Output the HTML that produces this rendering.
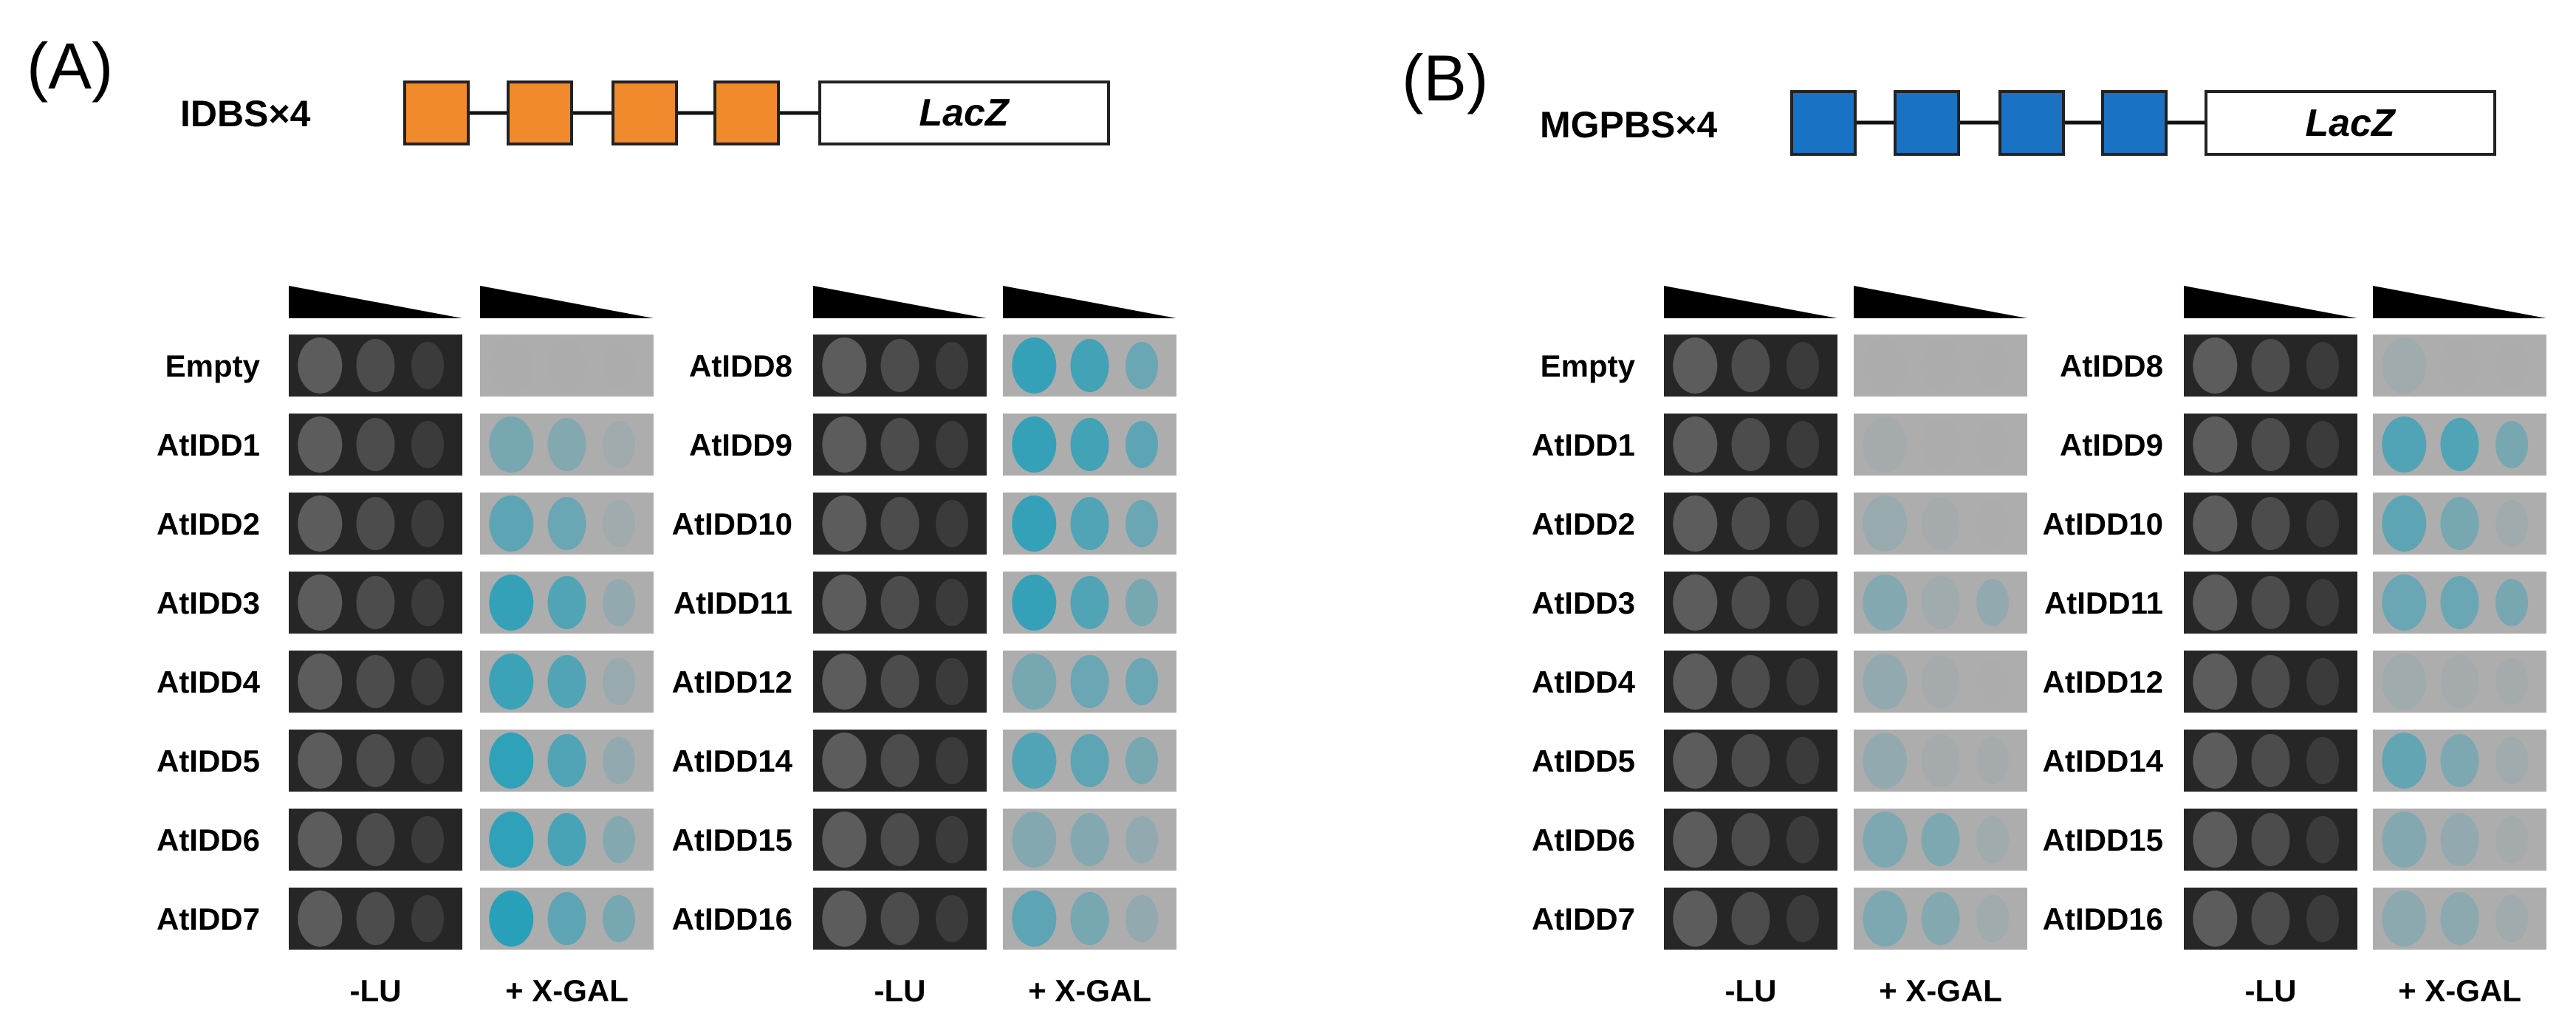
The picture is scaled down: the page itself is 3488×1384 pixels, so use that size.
<!DOCTYPE html>
<html><head><meta charset="utf-8"><style>
html,body{margin:0;padding:0;background:#fff}
svg{display:block}
text{font-family:"Liberation Sans",Arial,sans-serif}
</style></head><body>
<svg id="fig" width="3488" height="1384" viewBox="0 0 3488 1384" xmlns="http://www.w3.org/2000/svg">
 <g>
  <text x="36" y="120" font-size="88">(A)</text>
  <text x="244" y="171" font-size="50" font-weight="bold">IDBS×4</text>
  <line x1="591" y1="153" x2="1110" y2="153" stroke="#111" stroke-width="5"/>
  <rect x="548" y="111" width="86" height="84" fill="#f08a2c" stroke="#222" stroke-width="4"/>
  <rect x="688" y="111" width="86" height="84" fill="#f08a2c" stroke="#222" stroke-width="4"/>
  <rect x="830" y="111" width="86" height="84" fill="#f08a2c" stroke="#222" stroke-width="4"/>
  <rect x="968" y="111" width="86" height="84" fill="#f08a2c" stroke="#222" stroke-width="4"/>
  <rect x="1110" y="111" width="391" height="84" fill="#fff" stroke="#222" stroke-width="4"/>
  <text x="1305" y="170" font-size="52" font-weight="bold" font-style="italic" text-anchor="middle">LacZ</text>
 </g>
 <g>
  <text x="1898" y="136" font-size="88">(B)</text>
  <text x="2085" y="186" font-size="50" font-weight="bold">MGPBS×4</text>
  <line x1="2470" y1="166" x2="2987" y2="166" stroke="#111" stroke-width="5"/>
  <rect x="2426" y="124" width="86" height="85" fill="#1a72c4" stroke="#222" stroke-width="4"/>
  <rect x="2566" y="124" width="86" height="85" fill="#1a72c4" stroke="#222" stroke-width="4"/>
  <rect x="2708" y="124" width="86" height="85" fill="#1a72c4" stroke="#222" stroke-width="4"/>
  <rect x="2847" y="124" width="86" height="85" fill="#1a72c4" stroke="#222" stroke-width="4"/>
  <rect x="2987" y="124" width="391" height="85" fill="#fff" stroke="#222" stroke-width="4"/>
  <text x="3182" y="184" font-size="52" font-weight="bold" font-style="italic" text-anchor="middle">LacZ</text>
 </g>
</svg>
<script>
const labelsLeft = ["Empty","AtIDD1","AtIDD2","AtIDD3","AtIDD4","AtIDD5","AtIDD6","AtIDD7"];
const labelsRight = ["AtIDD8","AtIDD9","AtIDD10","AtIDD11","AtIDD12","AtIDD14","AtIDD15","AtIDD16"];
const blueALeft = [[0,0,0],[0.4,0.3,0.1],[0.6,0.5,0.1],[0.9,0.7,0.2],[0.85,0.7,0.15],[0.95,0.7,0.2],[0.95,0.75,0.3],[1,0.6,0.4]];
const blueARight = [[0.9,0.8,0.5],[0.9,0.8,0.6],[0.9,0.7,0.5],[0.9,0.7,0.4],[0.4,0.5,0.5],[0.7,0.6,0.4],[0.3,0.3,0.2],[0.6,0.4,0.2]];
const blueBLeft = [[0,0,0],[0.05,0,0],[0.15,0.05,0],[0.3,0.1,0.2],[0.2,0.05,0],[0.2,0.05,0.05],[0.35,0.35,0.1],[0.35,0.3,0.1]];
const blueBRight = [[0.1,0,0],[0.7,0.7,0.4],[0.6,0.4,0.1],[0.5,0.5,0.4],[0.1,0.05,0.05],[0.55,0.35,0.1],[0.3,0.2,0.05],[0.25,0.25,0.1]];
const growth = [1,0.7,0.4];

const NS="http://www.w3.org/2000/svg";
const svg=document.getElementById('fig');
const ROW0=453, PITCH=107, ROWH=84, CELLW=235;
function mk(tag,attrs,parent){const e=document.createElementNS(NS,tag);for(const k in attrs)e.setAttribute(k,attrs[k]);(parent||svg).appendChild(e);return e;}
function rowY(i){return ROW0+i*PITCH;}
function mix(v){const g=[172,172,172],b=[40,160,185];return `rgb(${g.map((c,i)=>Math.round(c+(b[i]-c)*v)).join(',')})`;}
function block(grp,labels,blue,labelX,darkX,grayX,key){
  mk('polygon',{points:`${darkX},387 ${darkX},431 ${darkX+CELLW},431`,fill:'#000'},grp);
  mk('polygon',{points:`${grayX},387 ${grayX},431 ${grayX+CELLW},431`,fill:'#000'},grp);
  labels.forEach((lab,i)=>{
    const y=rowY(i);
    const t=mk('text',{x:labelX,y:y+ROWH/2+15,'font-size':42,'font-weight':'bold','text-anchor':'end'},grp);
    t.textContent=lab;
    
    
    const d=mk('rect',{x:darkX,y:y,width:CELLW,height:ROWH,fill:'#262626'},grp);
    
    
    const g=mk('rect',{x:grayX,y:y,width:CELLW,height:ROWH,fill:'#adadad'},grp);
    
    
    [0.18,0.5,0.8].forEach((fx,j)=>{
      const rx=[30,26,22][j], ry=[38,36,32][j];
      const s1=mk('ellipse',{cx:darkX+CELLW*fx,cy:y+ROWH/2,rx:rx,ry:ry,fill:'#5c5c5c','fill-opacity':growth[j]},grp);
      
      
      const v=blue[i][j];
      const s2=mk('ellipse',{cx:grayX+CELLW*fx,cy:y+ROWH/2,rx:rx,ry:ry,fill:mix(v)},grp);
      
      
    });
  });
  const l1=mk('text',{x:darkX+CELLW/2,y:1356,'font-size':42,'font-weight':'bold','text-anchor':'middle'},grp);
  l1.textContent='-LU';
  
  
  const l2=mk('text',{x:grayX+CELLW/2,y:1356,'font-size':42,'font-weight':'bold','text-anchor':'middle'},grp);
  l2.textContent='+ X-GAL';
  
  
}
function panel(name,blocks){
  const grp=mk('g',{});
  
  
  blocks.forEach(b=>block(grp,...b));
}
panel('panel-a-assay',[[labelsLeft,blueALeft,352,391,650,'a-left'],[labelsRight,blueARight,1073,1101,1358,'a-right']]);
panel('panel-b-assay',[[labelsLeft,blueBLeft,2214,2253,2510,'b-left'],[labelsRight,blueBRight,2929,2957,3213,'b-right']]);
</script>
</body></html>
